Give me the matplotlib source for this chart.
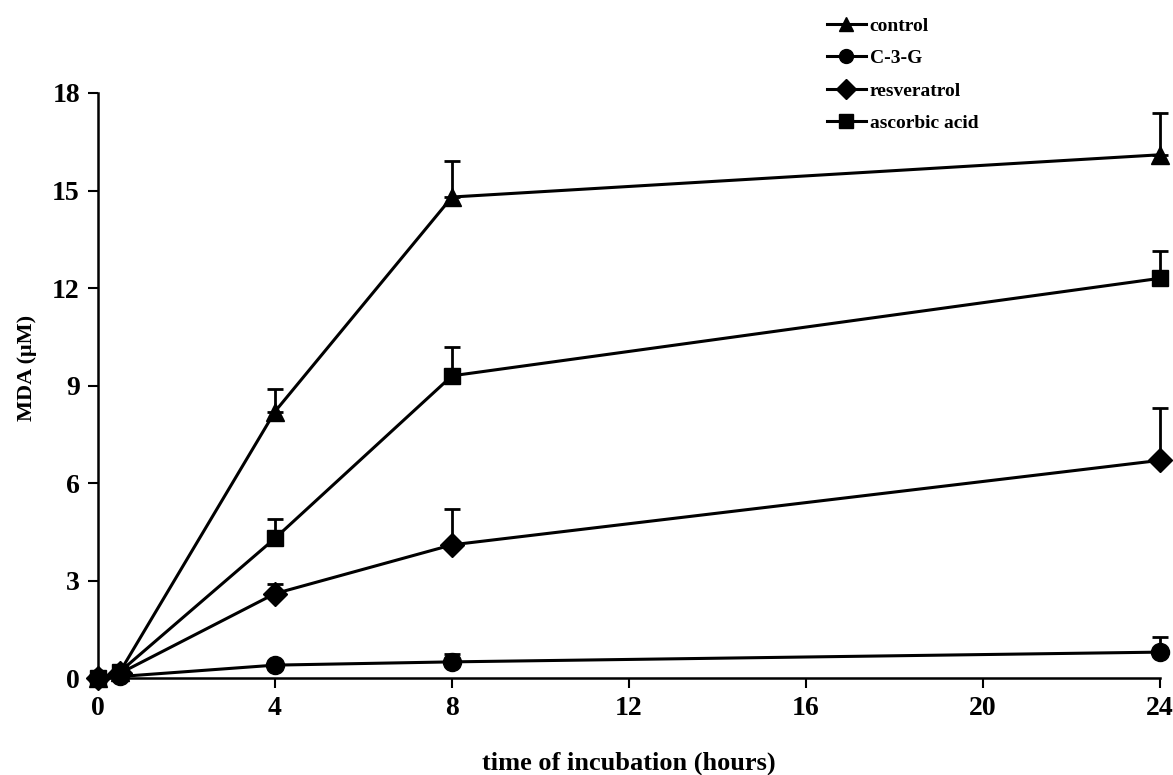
import matplotlib
matplotlib.use("Agg")
import matplotlib.pyplot as plt
import numpy as np

hours = [0, 0.5, 4, 8, 24]
control = [0.0, 0.2, 8.2, 14.8, 16.1]
control_err = [0.0, 0.0, 0.7, 1.1, 1.3]
c3g = [0.0, 0.05, 0.4, 0.5, 0.8]
c3g_err = [0.0, 0.0, 0.0, 0.25, 0.45]
resveratrol = [0.0, 0.15, 2.6, 4.1, 6.7]
resveratrol_err = [0.0, 0.0, 0.3, 1.1, 1.6]
ascorbic = [0.0, 0.2, 4.3, 9.3, 12.3]
ascorbic_err = [0.0, 0.0, 0.6, 0.9, 0.85]

labels = ["control", "C-3-G", "resveratrol", "ascorbic acid"]
xticks = [0, 4, 8, 12, 16, 20, 24]
yticks = [0, 3, 6, 9, 12, 15, 18]

plt.rcParams['font.family'] = ['Liberation Serif', 'DejaVu Serif']
plt.rcParams['font.weight'] = 'bold'

fig = plt.figure(figsize=(11.73, 7.75), dpi=100)
ax = fig.add_axes([0.0835, 0.125, 0.9055, 0.755])

series = [(control, control_err, '^', 13), (c3g, c3g_err, 'o', 13),
          (resveratrol, resveratrol_err, 'D', 12), (ascorbic, ascorbic_err, 's', 12)]
handles = []
for (vals, err, mk, ms), lab in zip(series, labels):
    v = np.array(vals)
    e = np.array(err)
    eb = ax.errorbar(hours, v, yerr=[np.zeros_like(e), e], fmt='none', ecolor='black',
                     elinewidth=2, capsize=6, capthick=2)
    for art in eb.lines[1]:
        art.set_clip_on(False)
    for art in eb.lines[2]:
        art.set_clip_on(False)
    h, = ax.plot(hours, v, color='black', lw=2.2, marker=mk, ms=ms,
                 markerfacecolor='black', markeredgecolor='black', label=lab, clip_on=False)
    handles.append(h)

ax.set_xlim(0, 24)
ax.set_ylim(0, 18)
ax.set_xticks(xticks)
ax.set_yticks(yticks)
ax.spines['top'].set_visible(False)
ax.spines['right'].set_visible(False)
for s in ['left', 'bottom']:
    ax.spines[s].set_linewidth(1.8)
ax.tick_params(direction='out', length=7, width=1.5, labelsize=20, pad=6)
for t in ax.get_xticklabels() + ax.get_yticklabels():
    t.set_fontweight('bold')
ax.set_xlabel("time of incubation (hours)", fontsize=19, fontweight='bold', labelpad=22)
ax.set_ylabel("MDA (\u03bcM)", fontsize=16, fontweight='bold')
ax.yaxis.set_label_coords(-0.057, 0.53)

leg = fig.legend(handles=handles, labels=labels, loc='upper left',
                 bbox_to_anchor=(0.69, 1.0), frameon=False,
                 handlelength=2.0, handletextpad=0.2, labelspacing=0.75,
                 prop={'weight': 'bold', 'size': 14})
for h in leg.legend_handles:
    h.set_markersize(10)

fig.savefig("out.png", dpi=100)
